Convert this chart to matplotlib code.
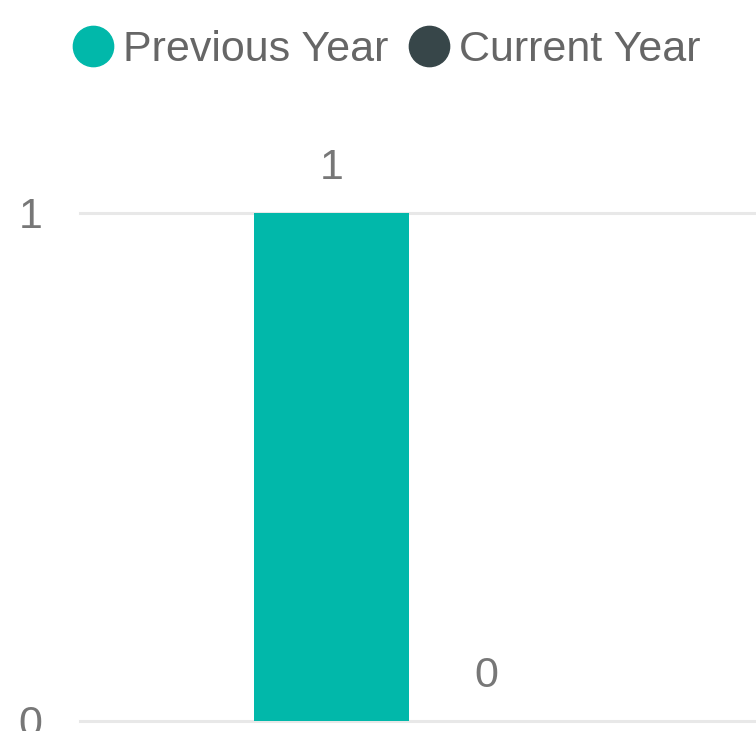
import matplotlib
matplotlib.use("Agg")
import matplotlib.pyplot as plt
from matplotlib.lines import Line2D

# data
series = ["Previous Year", "Current Year"]
values = [1, 0]
colors = ["#01B8AA", "#374649"]
y_ticks = [0, 1]

plt.rcParams["font.family"] = ["Liberation Sans", "DejaVu Sans"]

W, H = 756, 731
fig = plt.figure(figsize=(W / 100, H / 100), dpi=100)
ax = fig.add_axes([80 / W, 10 / H, 676 / W, 508 / H])

bar_w = 0.4
offsets = [-bar_w / 2, bar_w / 2]
for name, v, c, off in zip(series, values, colors, offsets):
    bars = ax.bar(off, v, width=bar_w, color=c, zorder=3, label=name)
    ax.bar_label(bars, labels=[str(v)], padding=18, fontsize=31, color="#777777")

for t in y_ticks:
    ax.axhline(t, color="#e8e8e8", linewidth=2.2, zorder=1, clip_on=False)

ax.set_xlim(-0.849, 0.8955)
ax.set_ylim(0, 1)
ax.set_yticks(y_ticks)
ax.set_yticklabels([str(t) for t in y_ticks])
ax.set_xticks([])
ax.tick_params(axis="y", length=0, pad=27, labelsize=31, labelcolor="#777777")
for s in ax.spines.values():
    s.set_visible(False)

# legend with round markers above the plot
handles = [Line2D([], [], marker="o", linestyle="none", markersize=29,
                  markerfacecolor=c, markeredgecolor=c) for c in colors]
fig.legend(handles, series, loc="center", bbox_to_anchor=(386 / W, 1 - 50 / H),
           ncol=2, frameon=False, fontsize=31, labelcolor="#666666",
           handletextpad=0.2, columnspacing=0.45, handlelength=1.0,
           borderaxespad=0, borderpad=0)

fig.savefig("out.png", dpi=100)
